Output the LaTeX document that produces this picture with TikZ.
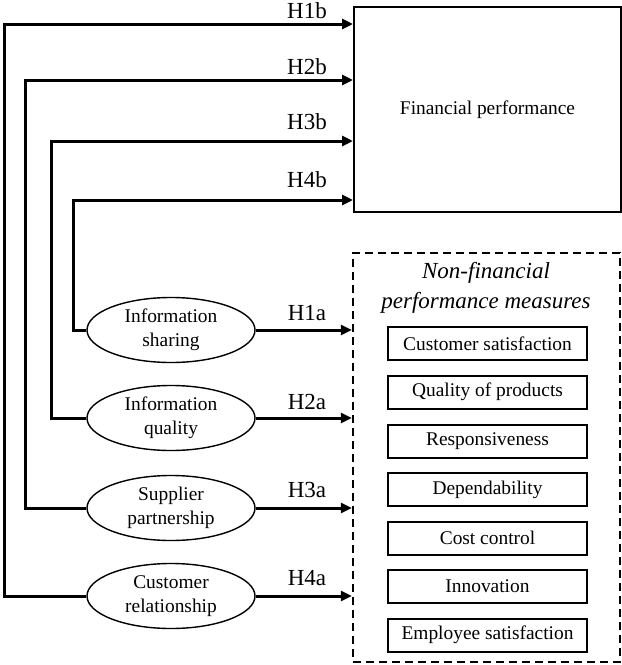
\documentclass[tikz,border=0pt]{standalone}
\usepackage{fontspec}
\setmainfont{Liberation Serif}
\usetikzlibrary{arrows.meta,shapes.geometric}
\begin{document}
\begin{tikzpicture}[x=1pt,y=-1pt,
 conn/.style={line width=3pt, -{Triangle[length=11pt,width=10pt]}},
 ell/.style={ellipse, draw, line width=1.4pt, minimum width=168pt, minimum height=65pt, inner sep=0pt, align=center, font=\fontsize{19.4}{23.5}\selectfont},
 mbox/.style={draw, line width=2pt, minimum width=199pt, minimum height=33pt, inner sep=0pt, font=\fontsize{19.4}{23}\selectfont},
 hlab/.style={font=\fontsize{23}{26}\selectfont}]
\useasboundingbox (0,0) rectangle (622,665);
% Financial performance
\node[draw, line width=2pt, minimum width=267pt, minimum height=205pt, inner sep=0pt, font=\fontsize{19.4}{23}\selectfont] (fin) at (487.5,109.5) {Financial performance};
% Non-financial box
\node[draw, dash pattern=on 8pt off 5pt, line width=2.4pt, minimum width=267pt, minimum height=409pt, inner sep=0pt] (nf) at (486.5,457.5) {};
\node[font=\fontsize{23}{30}\selectfont\itshape, align=center] (title) at (486,288) {Non-financial\\performance measures};
\node[mbox] (b1) at (487.5,343.5) {Customer satisfaction};
\node[mbox] (b2) at (487.5,392) {Quality of products};
\node[mbox] (b3) at (487.5,441) {Responsiveness};
\node[mbox] (b4) at (487.5,489.5) {Dependability};
\node[mbox] (b5) at (487.5,538) {Cost control};
\node[mbox] (b6) at (487.5,586.5) {Innovation};
\node[mbox] (b7) at (487.5,635) {Employee satisfaction};
% Ellipses
\node[ell] (is) at (171,330) {Information\\sharing};
\node[ell] (iq) at (171,418) {Information\\quality};
\node[ell] (sp) at (171,508) {Supplier\\partnership};
\node[ell] (cr) at (171,596) {Customer\\relationship};
% corner coordinates
\coordinate (c1) at (4.5,24);
\coordinate (c2) at (25,80);
\coordinate (c3) at (51,141);
\coordinate (c4) at (73,200);
% b connectors
\draw[conn] (cr.west) -| (c1) -- (c1 -| fin.west);
\draw[conn] (sp.west) -| (c2) -- (c2 -| fin.west);
\draw[conn] (iq.west) -| (c3) -- (c3 -| fin.west);
\draw[conn] (is.west) -| (c4) -- (c4 -| fin.west);
% a connectors
\draw[conn] (is.east) -- (is.east -| nf.west);
\draw[conn] (iq.east) -- (iq.east -| nf.west);
\draw[conn] (sp.east) -- (sp.east -| nf.west);
\draw[conn] (cr.east) -- (cr.east -| nf.west);
% labels
\node[hlab] (h1b) at (307,11) {H1b};
\node[hlab] (h2b) at (307,67) {H2b};
\node[hlab] (h3b) at (307,122) {H3b};
\node[hlab] (h4b) at (307,180) {H4b};
\node[hlab] (h1a) at (307,313) {H1a};
\node[hlab] (h2a) at (307,402) {H2a};
\node[hlab] (h3a) at (307,490) {H3a};
\node[hlab] (h4a) at (307,578) {H4a};
\end{tikzpicture}
\end{document}
